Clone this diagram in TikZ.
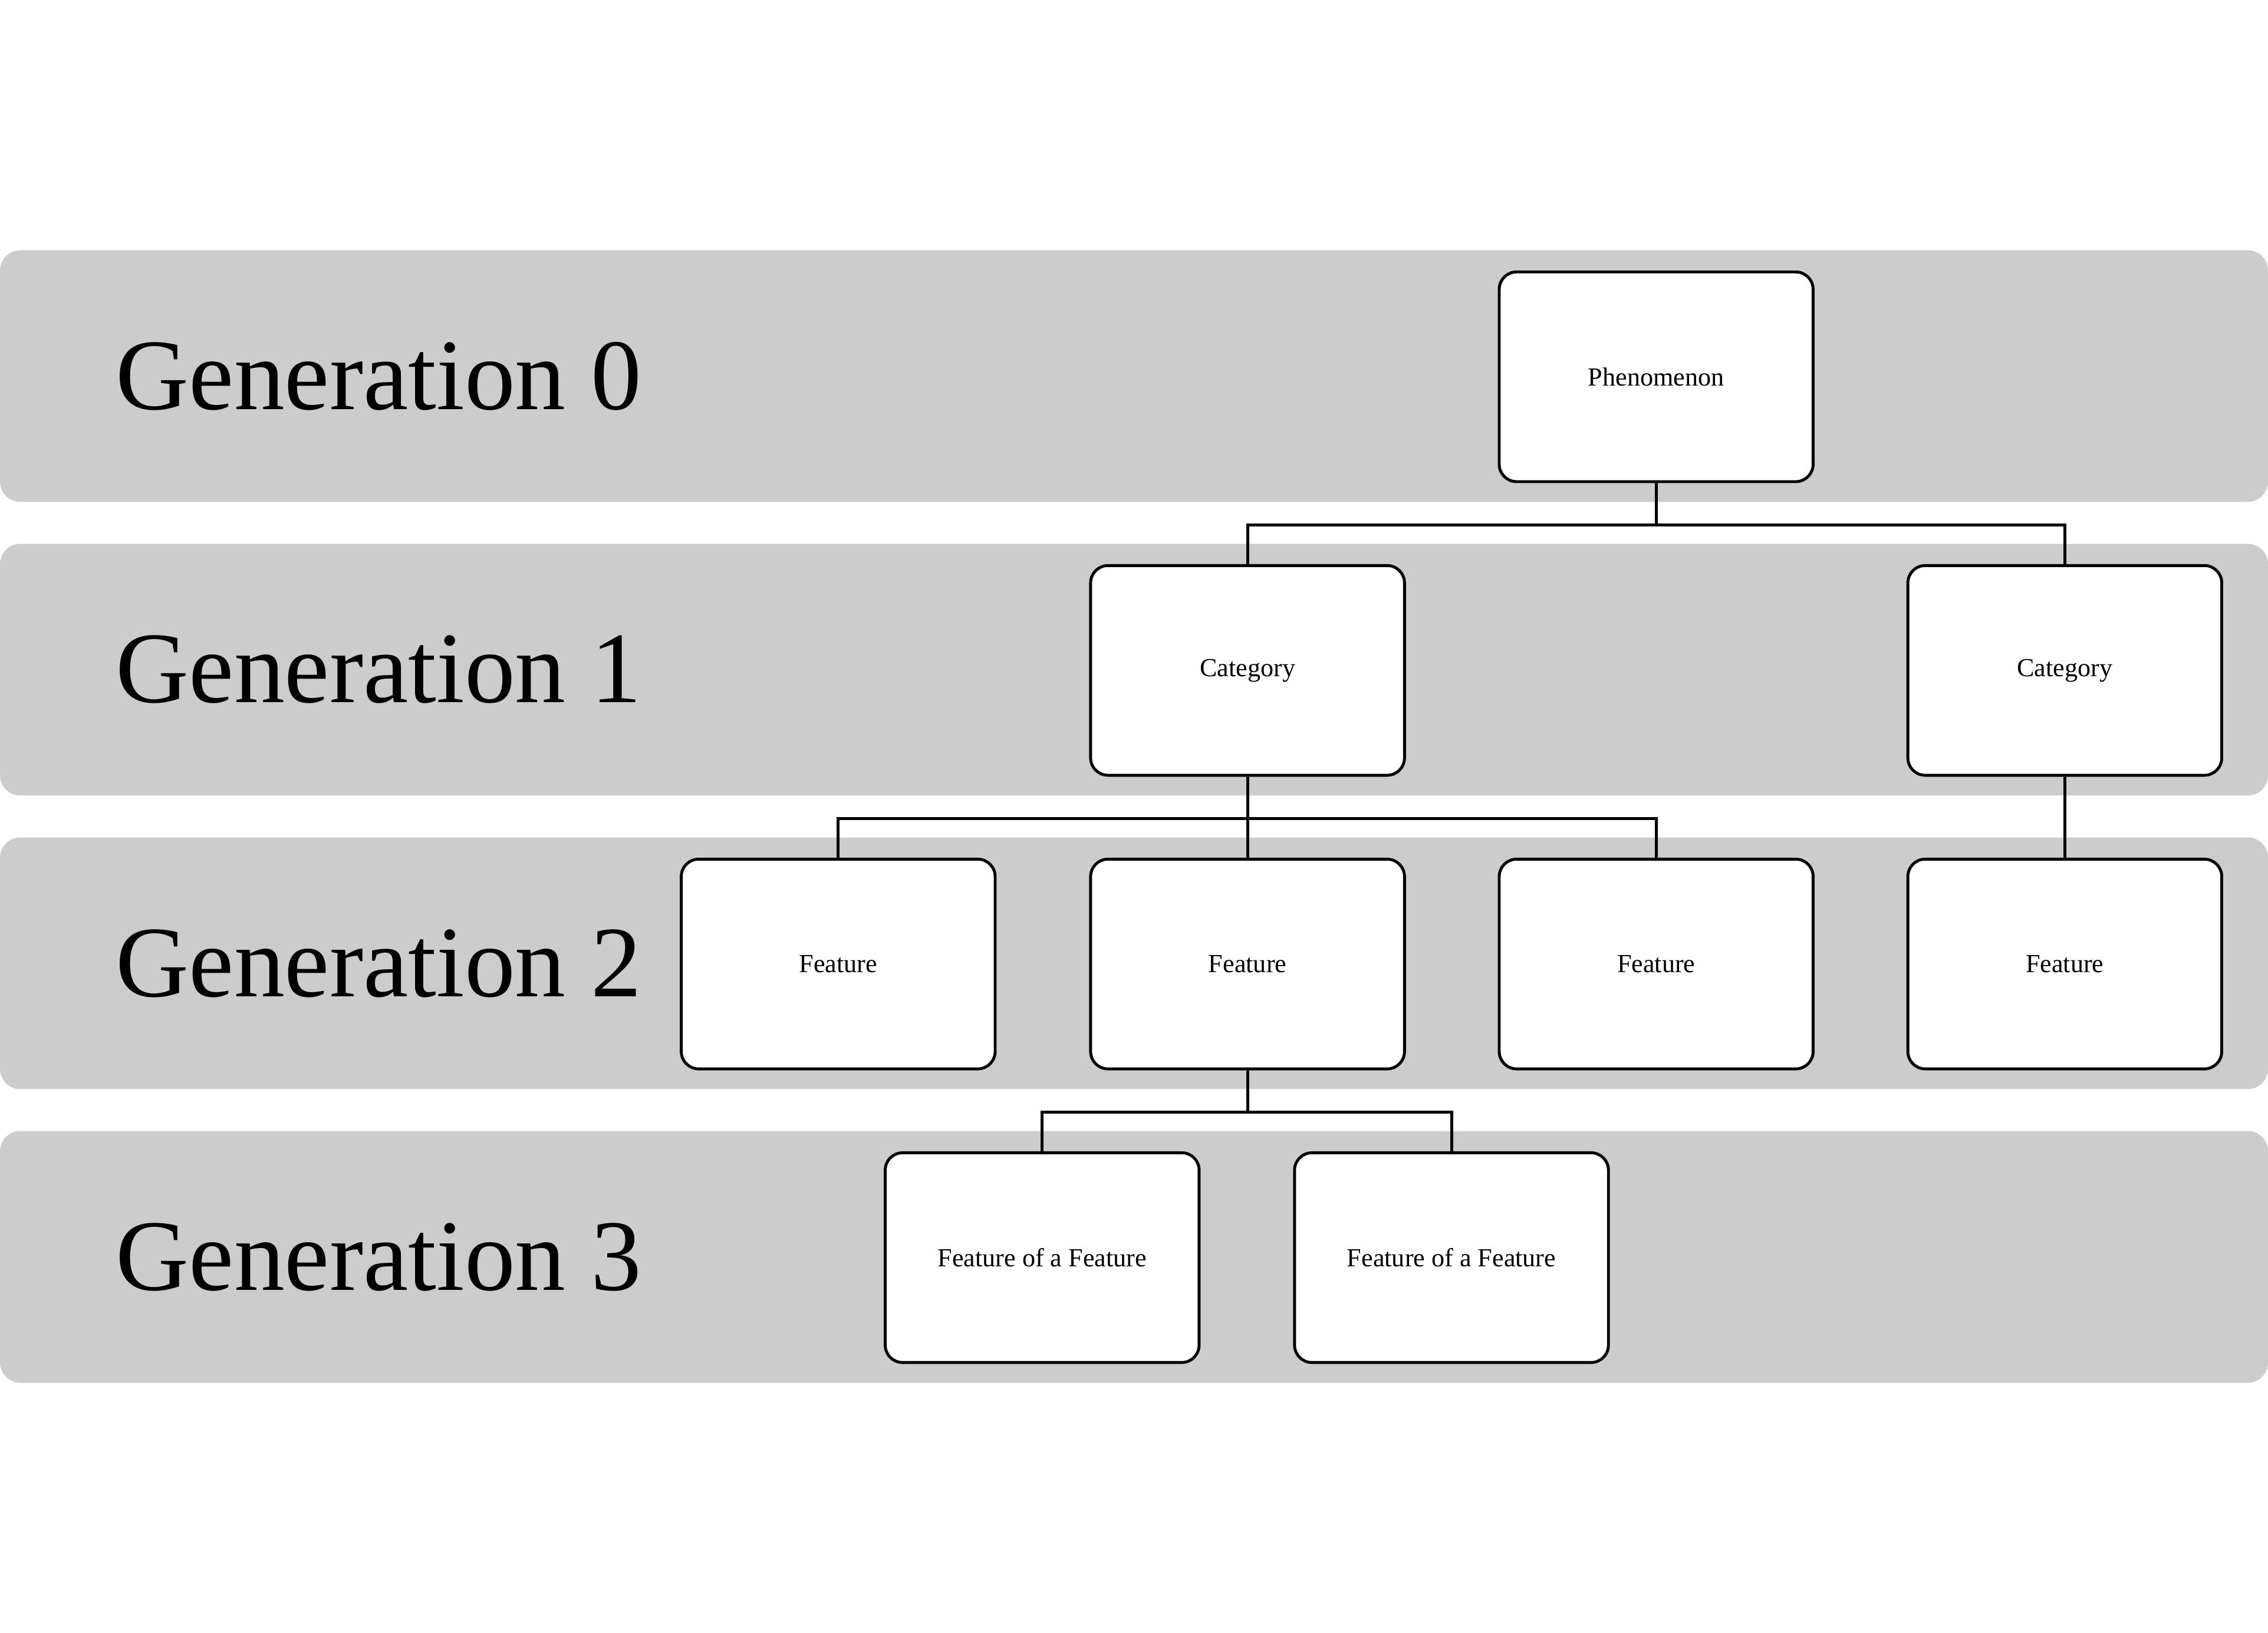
\documentclass[tikz,border=0pt]{standalone}
\usepackage{fontspec}
\setmainfont{Liberation Serif}
\begin{document}
\begin{tikzpicture}[x=1pt,y=-1pt,
  band/.style={fill=black!20,draw=none,rounded corners=14pt},
  box/.style={draw=black,line width=2pt,fill=white,rounded corners=12pt,minimum width=217pt,minimum height=145pt,font=\fontsize{18}{20}\selectfont,inner sep=0pt},
  gen/.style={anchor=west,font=\fontsize{70}{80}\selectfont,inner sep=0pt},
  link/.style={line width=2pt}]
\useasboundingbox (0,0) rectangle (1568,1129);
\foreach \t/\n in {173/0,376/1,579/2,782/3}{
  \fill[band] (0,\t) rectangle (1568,\t+174);
  \node[gen] (g\n) at (80,\t+87) {Generation \n};
}
\node[box] (p) at (1145,260.5) {Phenomenon};
\node[box] (c1) at (862.5,463.5) {Category};
\node[box] (c2) at (1427.5,463.5) {Category};
\node[box] (f1) at (579.5,666.5) {Feature};
\node[box] (f2) at (862.5,666.5) {Feature};
\node[box] (f3) at (1145,666.5) {Feature};
\node[box] (f4) at (1427.5,666.5) {Feature};
\node[box] (ff1) at (720.5,869.5) {Feature of a Feature};
\node[box] (ff2) at (1003.5,869.5) {Feature of a Feature};
\draw[link] (p.south) -- ++(0,29) -| (c1.north);
\draw[link] (p.south) -- ++(0,29) -| (c2.north);
\draw[link] (c1.south) -- (f2.north);
\draw[link] (c1.south) -- ++(0,29) -| (f1.north);
\draw[link] (c1.south) -- ++(0,29) -| (f3.north);
\draw[link] (c2.south) -- (f4.north);
\draw[link] (f2.south) -- ++(0,29) -| (ff1.north);
\draw[link] (f2.south) -- ++(0,29) -| (ff2.north);
\end{tikzpicture}
\end{document}
